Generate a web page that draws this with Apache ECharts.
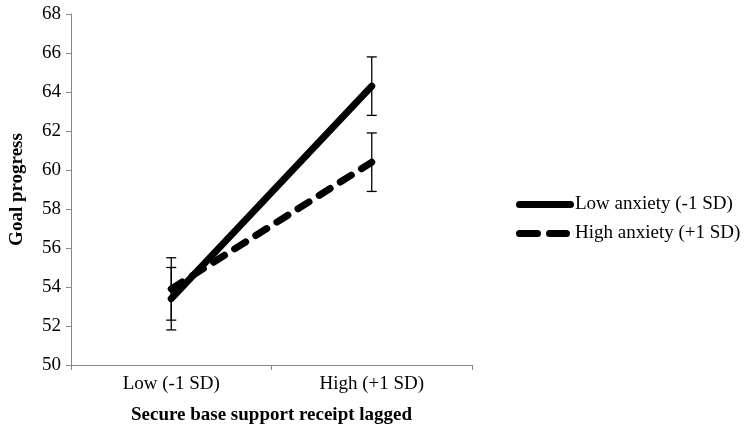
<!DOCTYPE html>
<html><head><meta charset="utf-8">
<script src="https://cdn.jsdelivr.net/npm/echarts@6/dist/echarts.min.js"></script>
<style>html,body{margin:0;padding:0;background:#fff}#c{width:751px;height:435px}</style>
</head><body><div id="c"></div>
<script>
const categories = ['Low (-1 SD)', 'High (+1 SD)'];
const lowAnxiety = [53.4, 64.3];
const highAnxiety = [53.9, 60.4];
const lowAnxietyErr = [1.6, 1.5];
const highAnxietyErr = [1.6, 1.5];
const seriesNames = ['Low anxiety (-1 SD)', 'High anxiety (+1 SD)'];

const font = '"Liberation Serif", "Times New Roman", serif';

const solidIcon = 'path://M3.5,0 L54.5,0 A3.5,3.5 0 0 1 54.5,7 L3.5,7 A3.5,3.5 0 0 1 3.5,0 Z';
const dashedIcon = 'path://M3.5,0 L21.5,0 A3.5,3.5 0 0 1 21.5,7 L3.5,7 A3.5,3.5 0 0 1 3.5,0 Z M33.5,0 L50.5,0 A3.5,3.5 0 0 1 50.5,7 L33.5,7 A3.5,3.5 0 0 1 33.5,0 Z M57.9,0 L58,0 L58,7 L57.9,7 Z';

function errData(vals, errs) {
  return vals.map((v, i) => [i, v - errs[i], v + errs[i]]);
}
function errRender(params, api) {
  const x = api.value(0);
  const lo = api.coord([x, api.value(1)]);
  const hi = api.coord([x, api.value(2)]);
  const w = 5;
  const st = { stroke: '#000', lineWidth: 1.3 };
  return {
    type: 'group',
    children: [
      { type: 'line', shape: { x1: lo[0], y1: lo[1], x2: hi[0], y2: hi[1] }, style: st },
      { type: 'line', shape: { x1: lo[0] - w, y1: lo[1], x2: lo[0] + w, y2: lo[1] }, style: st },
      { type: 'line', shape: { x1: hi[0] - w, y1: hi[1], x2: hi[0] + w, y2: hi[1] }, style: st }
    ]
  };
}

const chart = echarts.init(document.getElementById('c'), null, { renderer: 'canvas' });
chart.setOption({
  animation: false,
  backgroundColor: '#fff',
  grid: { left: 67, right: 279, top: 14, bottom: 70, containLabel: false },
  legend: {
    orient: 'vertical',
    left: 511,
    top: 190,
    itemWidth: 58,
    itemHeight: 7,
    itemGap: 10,
    data: [
      { name: seriesNames[0], icon: solidIcon },
      { name: seriesNames[1], icon: dashedIcon }
    ],
    itemStyle: { color: '#000', borderWidth: 0 },
    lineStyle: { width: 0 },
    textStyle: { fontFamily: font, fontSize: 19, color: '#000', padding: [0, 0, 0, -4] }
  },
  xAxis: {
    type: 'category',
    data: categories,
    boundaryGap: true,
    name: 'Secure base support receipt lagged',
    nameLocation: 'middle',
    nameGap: 41,
    nameTextStyle: { fontFamily: font, fontSize: 19, fontWeight: 'bold', color: '#000' },
    axisLine: { lineStyle: { color: '#868686', width: 1 } },
    axisTick: { show: true, length: 5, lineStyle: { color: '#868686' } },
    axisLabel: { fontFamily: font, fontSize: 19, color: '#000', margin: 10 }
  },
  yAxis: {
    type: 'value',
    min: 50, max: 68, interval: 2,
    name: 'Goal progress',
    nameLocation: 'middle',
    nameGap: 44,
    nameTextStyle: { fontFamily: font, fontSize: 19, fontWeight: 'bold', color: '#000' },
    axisLine: { show: true, lineStyle: { color: '#868686', width: 1 } },
    axisTick: { show: true, length: 5, lineStyle: { color: '#868686' } },
    axisLabel: { fontFamily: font, fontSize: 19, color: '#000', margin: 10 },
    splitLine: { show: false }
  },
  series: [
    {
      name: seriesNames[0], type: 'line', data: lowAnxiety, symbol: 'none',
      lineStyle: { color: '#000', width: 7, cap: 'round' }, itemStyle: { color: '#000' }, z: 3
    },
    {
      name: seriesNames[1], type: 'line', data: highAnxiety, symbol: 'none',
      lineStyle: { color: '#000', width: 7, type: [13, 12], cap: 'round' }, itemStyle: { color: '#000' }, z: 3
    },
    { type: 'custom', data: errData(lowAnxiety, lowAnxietyErr), renderItem: errRender, z: 2, encode: { x: 0, y: [1, 2] } },
    { type: 'custom', data: errData(highAnxiety, highAnxietyErr), renderItem: errRender, z: 2, encode: { x: 0, y: [1, 2] } }
  ]
});
</script></body></html>
